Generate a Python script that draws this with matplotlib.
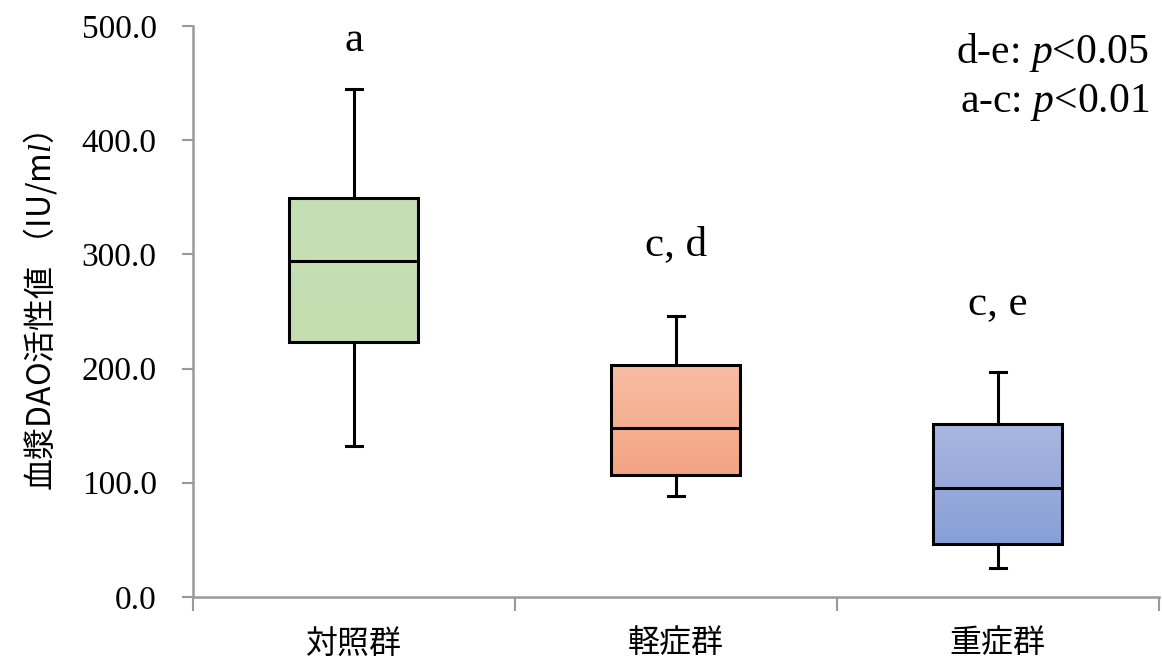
import numpy as np
import matplotlib
matplotlib.use("Agg")
import matplotlib.pyplot as plt
from matplotlib.colors import LinearSegmentedColormap

plt.rcParams['font.family'] = ['Liberation Serif', 'Noto Sans CJK JP']
plt.rcParams['mathtext.fontset'] = 'custom'
plt.rcParams['mathtext.rm'] = 'Liberation Serif'
plt.rcParams['mathtext.it'] = 'Liberation Serif:italic'

groups = ["対照群", "軽症群", "重症群"]
whislo = [132, 88, 25]
q1 = [223, 107, 46]
med = [294, 148, 95]
q3 = [349, 203, 151]
whishi = [445, 246, 197]
letters = ["a", "c, d", "c, e"]
letter_y = [487, 308, 256]
top_colors = ["#c6e0b5", "#f7bda3", "#a9b6e0"]
bottom_colors = ["#c4deb2", "#f4a482", "#889fd8"]

fig = plt.figure(figsize=(11.62, 6.64), dpi=100)
ax = fig.add_axes([0.166, 0.101, 0.831, 0.86])

stats = []
for i in range(len(groups)):
    stats.append(dict(whislo=whislo[i], q1=q1[i], med=med[i], q3=q3[i], whishi=whishi[i], fliers=[]))

pos = np.arange(1, len(groups) + 1)
bp = ax.bxp(stats, positions=pos, widths=0.4, patch_artist=True, showfliers=False,
            boxprops=dict(facecolor='none', edgecolor='black', linewidth=2.2),
            medianprops=dict(color='black', linewidth=2.2),
            whiskerprops=dict(color='black', linewidth=2.2),
            capprops=dict(color='black', linewidth=2.2), capwidths=0.05)

# gradient fill inside each box
for i, box in enumerate(bp['boxes']):
    cmap = LinearSegmentedColormap.from_list("g%d" % i, [bottom_colors[i], top_colors[i]])
    grad = np.linspace(0, 1, 100).reshape(-1, 1)
    im = ax.imshow(grad, cmap=cmap, origin='lower', aspect='auto',
                   extent=[pos[i] - 0.2, pos[i] + 0.2, q1[i], q3[i]], zorder=1)
    im.set_clip_path(box)
    box.set_zorder(3)

for i in range(len(groups)):
    ax.text(pos[i], letter_y[i], letters[i], ha='center', va='center', fontsize=31)

ax.text(0.99, 0.954, "d-e: $p$<0.05", transform=ax.transAxes, ha='right', va='center', fontsize=30)
ax.text(0.99, 0.865, "a-c: $p$<0.01", transform=ax.transAxes, ha='right', va='center', fontsize=30)

ax.set_xlim(0.5, 3.5)
ax.set_ylim(0, 500)
ax.set_yticks(np.arange(0, 501, 100))
ax.set_yticklabels(["%.1f" % v for v in np.arange(0, 501, 100)], fontsize=24)
ax.set_xticks([0.5, 1.5, 2.5, 3.5])
ax.set_xticklabels([])
ax.set_xticks(pos, minor=True)
ax.set_xticklabels(groups, minor=True, fontsize=23, family=['Noto Sans CJK JP'])
ax.tick_params(axis='x', which='minor', length=0, pad=22)
ax.tick_params(axis='x', which='major', length=10, color='#999999', width=1.5)
ax.tick_params(axis='y', length=8, color='#999999', width=1.5, pad=18)

for s in ['top', 'right']:
    ax.spines[s].set_visible(False)
for s in ['left', 'bottom']:
    ax.spines[s].set_color('#999999')
    ax.spines[s].set_linewidth(1.8)

ax.set_ylabel("血漿DAO活性値 （IU/m$l$）", fontsize=23, family=['Noto Sans CJK JP'], labelpad=16)

fig.savefig("out.png", dpi=100)
